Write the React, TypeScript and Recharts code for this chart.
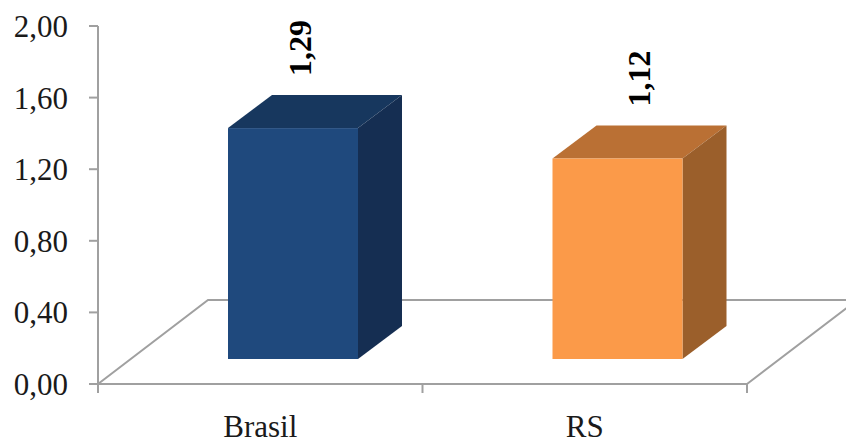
import { BarChart, Bar, XAxis, YAxis, LabelList, usePlotArea } from 'recharts';

const categorias = ['Brasil', 'RS'];
const valores = [1.29, 1.12];
const yTicks = [0, 0.4, 0.8, 1.2, 1.6, 2];

const coresFrente = ['#1F497D', '#FB9A49'];
const coresTopo = ['#17375E', '#BA7034'];
const coresLado = ['#152E52', '#9B5F2B'];

const data = categorias.map((nome, i) => ({ nome, valor: valores[i] }));

const fonte = '"Liberation Serif", "Times New Roman", serif';
const corEixo = '#A0A0A0';
const linhaEixo = { stroke: corEixo, strokeWidth: 2 };

// fake 3D: depth of the box and how far it sits in from the axis corner
const DX = 44;
const DY = 33;
const RECUO_X = 33;
const RECUO_Y = 25;

// horizontal nudge of each rotated value label
const rotuloDx = [40, 55];

// floor of the 3D box plus the x tick marks, which fall between categories
function Piso() {
  const area = usePlotArea();
  if (!area) return null;
  const esq = area.x;
  const dir = area.x + area.width;
  const base = area.y + area.height;
  const marcas = [0, 1, 2].map((i) => esq + (i * area.width) / categorias.length);
  return (
    <g>
      <polyline
        points={`${esq},${base} ${esq + 110},${base - 84} ${dir + 110},${base - 84} ${dir},${base}`}
        fill="none"
        {...linhaEixo}
      />
      {marcas.map((mx) => (
        <line key={mx} x1={mx} y1={base} x2={mx} y2={base + 9} {...linhaEixo} />
      ))}
    </g>
  );
}

function Caixa(props: any) {
  const { x, y, width, height, index } = props;
  const l = x + RECUO_X;
  const r = l + width;
  const t = y - RECUO_Y;
  const b = t + height;
  return (
    <g>
      <polygon points={`${l},${t} ${l + DX},${t - DY} ${r + DX},${t - DY} ${r},${t}`} fill={coresTopo[index]} />
      <polygon points={`${r},${t} ${r + DX},${t - DY} ${r + DX},${b - DY} ${r},${b}`} fill={coresLado[index]} />
      <rect x={l} y={t} width={width} height={height} fill={coresFrente[index]} />
    </g>
  );
}

function Rotulo(props: any) {
  const { x, y, width, value, index } = props;
  const cx = x + width / 2 + rotuloDx[index];
  const cy = y - RECUO_Y - DY - 47;
  return (
    <text
      x={cx}
      y={cy}
      transform={`rotate(-90 ${cx} ${cy})`}
      textAnchor="middle"
      dominantBaseline="central"
      fontFamily={fonte}
      fontSize={32}
      fontWeight="bold"
      fill="#000"
    >
      {value.toFixed(2).replace('.', ',')}
    </text>
  );
}

export default function App() {
  return (
    <div style={{ position: 'absolute', left: 0, top: 0 }}>
      <BarChart
        width={846}
        height={443}
        data={data}
        barSize={130}
        margin={{ top: 26, right: 99, bottom: 0, left: 0 }}
      >
        <Piso />
        <XAxis
          dataKey="nome"
          height={59}
          interval={0}
          tickLine={false}
          tickMargin={25}
          axisLine={linhaEixo}
          tick={{ fontFamily: fonte, fontSize: 31, fill: '#1a1a1a' }}
        />
        <YAxis
          width={98}
          domain={[0, 2]}
          ticks={yTicks}
          tickSize={9}
          tickMargin={21}
          axisLine={linhaEixo}
          tickLine={linhaEixo}
          tickFormatter={(v: number) => v.toFixed(2).replace('.', ',')}
          tick={{ fontFamily: fonte, fontSize: 31, fill: '#1a1a1a' }}
        />
        <Bar dataKey="valor" shape={<Caixa />} isAnimationActive={false}>
          <LabelList dataKey="valor" content={<Rotulo />} />
        </Bar>
      </BarChart>
    </div>
  );
}
